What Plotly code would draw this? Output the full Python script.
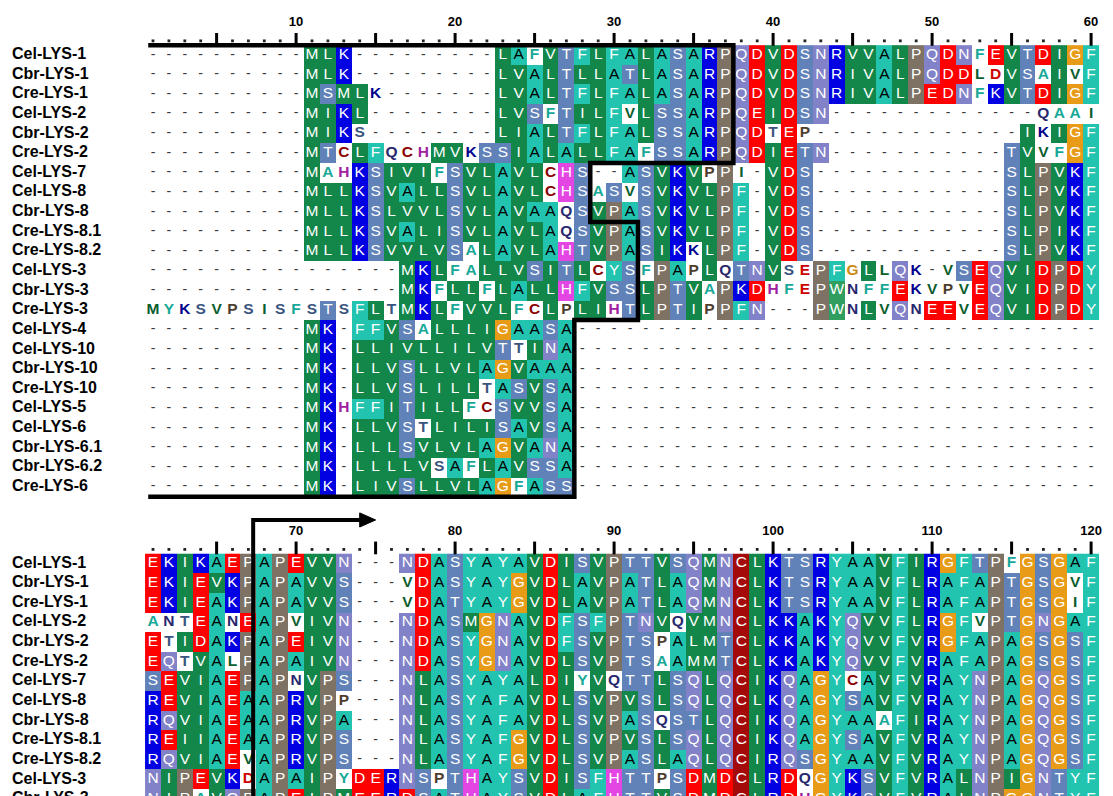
import plotly.graph_objects as go

# ---------------- data ----------------
names = ["Cel-LYS-1", "Cbr-LYS-1", "Cre-LYS-1", "Cel-LYS-2", "Cbr-LYS-2", "Cre-LYS-2",
         "Cel-LYS-7", "Cel-LYS-8", "Cbr-LYS-8", "Cre-LYS-8.1", "Cre-LYS-8.2", "Cel-LYS-3",
         "Cbr-LYS-3", "Cre-LYS-3", "Cel-LYS-4", "Cel-LYS-10", "Cbr-LYS-10", "Cre-LYS-10",
         "Cel-LYS-5", "Cel-LYS-6", "Cbr-LYS-6.1", "Cbr-LYS-6.2", "Cre-LYS-6"]

# positions 1-60 ; uppercase = shaded residue, lowercase = unshaded residue, '-' = gap
seqs_1_60 = [
    "----------MLK---------LAfVTFLFALASARPQDVDSNRVVALPQDNfEVTDIGF",
    "----------MLK---------LVALTLLATLASARPQDVDSNRIVALPQDDldVSaIvF",
    "----------MSMLk-------LVALTFLFALASARPQDVDSNRIVALPEDNfKVTDIGF",
    "----------MIKL--------LVSfTILFvLSSARPQEIDSN-------------qaai",
    "----------MIKs--------LIALTFLFALSSARPQDtEp-------------IkIGF",
    "----------MTcLFqchMVkSSIALALLFAfSSARPQDIETN-----------TVvfGF",
    "----------MahKSIVIfSVLAVLcHS--ASVKVpPi-VDS------------SLPVKF",
    "----------MLLKSVALLSVLAVLcHSaSvSVKVLPF-VDS------------SLPVKF",
    "----------MLLKSLVVLSVLAVAAqSVPASVKVLPF-VDS------------SLPVKF",
    "----------MLLKSVALISVLAVLAqSVPASVKVLPF-VDS------------SLPIKF",
    "----------MLLKSVVLVSaLAVLAHTVPASIKkLPF-VDS------------SLPVKF",
    "----------------MKLfaLLVSITLcYSfPApLqTNVsePFgLlQk-vSEQVIDPDY",
    "----------------MKfLLfLALLHFVSSLPTVaPKDhfePWnffEkvpvEQVIDPDY",
    "myksvpsisfsTsFLtMKLfVVLfcLpLIhTLPTIpPFN---PWnLvQnEEvEQVIDPDY",
    "----------MK-FFVSaLLLIGAASA",
    "----------MK-LLIVLLILVTtINA",
    "----------MK-LLVSLLVLAGVAAA",
    "----------MK-LLVSLILLtASVSA",
    "----------MKhFFITILLfcSVVSA",
    "----------MK-LLVStLILISAVSA",
    "----------MK-LLLSVLVLAGVANA",
    "----------MK-LLLLVsAfLAVSSA",
    "----------MK-LIVSLLVLAGfASS",
]

# positions 61-120 (first 13 sequences; the last one is cut by the page edge)
seqs_61_120 = [
    "EKIKAEPAPEVVN---NDASYAYAVDISVPTTVSQMNCLKTSRYAAVFIRGFTPfGSGAF",
    "EKIEVKPAPAVVS---vDASYAYGVDLAVPATLAQMNCLKTSRYAAVFLRAFAPTGSGvF",
    "EKIEAKPAPAVVS---vDATYAYGVDLAVPATLAQMNCLKTSRYAAVFLRAFAPTGSGiF",
    "antEAnEAPvIVN---NDASMGNAVDFSFPTNVqVMNCLKKAKYQVVFLRGFvPTGNGAF",
    "EtIDAKPAPEIVN---NDASYGNAVDFSVPTSpALMTCLKKAKYQVVFVRGFAPAGSGSF",
    "EQtVAlPAPAIVN---NDASYGNAVDLSVPTSaAMMTCLKKAKYQVVFVRAFAPAGSGSF",
    "SEVIAEPAPnVPS---NLASYAYALDIyVqTTLSQLQCIKQAGYcAVFVRAYNPAGQGSF",
    "REVIAEAAPRVPp---NLASYAFAVDLSVPVSLSQLQCLKQAGYSAVFVRAYNPAGQGSF",
    "RQVIAEAAPRVPA---NLASYAFAVDLSVPASqSTLQCIKQAGYAAaFIRAYNPAGQGSF",
    "REIIAEAAPRVPS---NLASYAFGVDLSVPVSLSQLQCIKQAGYSAVFVRAYNPAGQGSF",
    "RQVIAEvAPRVPS---NLASYAFGVDLSVPASLAQLQCIRQSGYAAVFVRAYNPAGQGSF",
    "NIPEVKdAPAIPyDERNSpTHAYSVDISFHTTpSDMDCLRDqGYKSVFVRALNPIGNTYF",
    "NIPaVQPAPEIPMEERDSATHAYSVDLAFHTTVSDMDCLRDhGYKSVFVRALNPGGNTYF",
]

ticks_1_60 = [10, 20, 30, 40, 50, 60]
ticks_61_120 = [70, 80, 90, 100, 110, 120]

# boxed region: (last row of the step, last column inside the box)
box_steps = [(6, 37), (9, 28), (14, 31), (23, 27)]
# arrow in second block: from residue 67 towards residue 75
arrow_from, arrow_to = 67, 75

# ---------------- styling ----------------
W, H = 1113, 796
COL_PX = 15.9
ROW_PX = 19.635
x0 = 1 - 153 / COL_PX
x_range = [x0, x0 + W / COL_PX]
y_top = -55 / ROW_PX
y_range = [y_top + H / ROW_PX, y_top]

groups = {}
for aa in "LIVM": groups[aa] = 1
for aa in "AFY": groups[aa] = 2
for aa in "ST": groups[aa] = 3
for aa in "NQ": groups[aa] = 4
for aa in "DE": groups[aa] = 5
for aa in "KR": groups[aa] = 6
groups["P"] = 7
groups["G"] = 8
groups["C"] = 9
groups["H"] = 10
groups["W"] = 11

bg_colors = ["#ffffff", "#13864a", "#22c4b0", "#6182b9", "#8282c8", "#ff0000",
             "#0000e2", "#7e7264", "#e89b17", "#a50a0a", "#e346e3", "#2f9e5f"]
fg_plain = {1: "#0b5e2e", 2: "#17a898", 3: "#3a5480", 4: "#28286e", 5: "#cc0000",
            6: "#00008c", 7: "#4d3d2d", 8: "#cc8a10", 9: "#8a0000", 10: "#a020a0",
            11: "#0b5e2e"}

n = len(bg_colors)
cscale = []
for k, c in enumerate(bg_colors):
    cscale.append([k / n, c])
    cscale.append([(k + 1) / n, c])

FONT = "Liberation Sans, Arial, sans-serif"

fig = go.Figure()


def add_block(seqs, row0, start_pos, tick_labels):
    nrow = len(seqs)
    ys = [row0 + i for i in range(nrow)]
    xs = list(range(1, 61))
    z = []
    sx, sy, st, sc = [], [], [], []   # shaded letters
    px, py, pt, pc = [], [], [], []   # unshaded letters
    gx, gy = [], []                   # gaps
    for i, s in enumerate(seqs):
        s = s.ljust(60, "-")
        zr = []
        for j, ch in enumerate(s):
            x = j + 1
            if ch == "-":
                zr.append(0)
                gx.append(x); gy.append(ys[i])
            elif ch.isupper():
                g = groups[ch]
                zr.append(g)
                sx.append(x); sy.append(ys[i]); st.append(ch)
                sc.append("#000000" if ch == "A" else "#ffffff")
            else:
                g = groups[ch.upper()]
                zr.append(0)
                px.append(x); py.append(ys[i]); pt.append(ch.upper())
                pc.append(fg_plain[g])
        z.append(zr)
    fig.add_trace(go.Heatmap(z=z, x=xs, y=ys, colorscale=cscale, zmin=-0.5, zmax=n - 0.5,
                             showscale=False, hoverinfo="skip", xgap=0, ygap=0))
    fig.add_trace(go.Scatter(x=sx, y=sy, text=st, mode="text", hoverinfo="skip",
                             textfont=dict(family=FONT, size=15.5, color=sc)))
    fig.add_trace(go.Scatter(x=px, y=py, text=pt, mode="text", hoverinfo="skip",
                             textfont=dict(family=FONT, size=15.5, color=pc, weight="bold")))
    fig.add_trace(go.Scatter(x=gx, y=gy, text=["-"] * len(gx), mode="text", hoverinfo="skip",
                             textfont=dict(family=FONT, size=14, color="#3a3a3a")))
    # names
    fig.add_trace(go.Scatter(x=[x_range[0] + 12 / COL_PX] * nrow, y=ys, text=names[:nrow],
                             mode="text", textposition="middle right", hoverinfo="skip",
                             textfont=dict(family=FONT, size=16, color="#000000", weight="bold")))
    # ruler
    tx = [t - start_pos + 1 for t in tick_labels]
    fig.add_trace(go.Scatter(x=tx, y=[row0 - 1.62] * len(tx), text=[str(t) for t in tick_labels],
                             mode="text", hoverinfo="skip",
                             textfont=dict(family="Liberation Sans Narrow, Arial, sans-serif",
                                           size=13, color="#000000", weight="bold")))
    bx, by = [], []
    dx, dy = [], []
    for c in xs:
        if c % 5 == 0:
            bx += [c, c, None]
            by += [row0 - 1.12, row0 - 0.47, None]
        else:
            dx.append(c); dy.append(row0 - 0.72)
    fig.add_trace(go.Scatter(x=bx, y=by, mode="lines", hoverinfo="skip",
                             line=dict(color="#000000", width=3)))
    fig.add_trace(go.Scatter(x=dx, y=dy, mode="markers", hoverinfo="skip",
                             marker=dict(color="#222222", size=2.8, symbol="square")))


add_block(seqs_1_60, 0, 1, ticks_1_60)
ROW0_B = 25.9
add_block(seqs_61_120, ROW0_B, 61, ticks_61_120)

# box outline in first block
start_x = 0.7
bxs, bys = [start_x], [-0.5]
ytop = -0.5
for last_row, col in box_steps:
    xb = col + 0.5
    bxs.append(xb); bys.append(ytop)
    ytop = last_row - 0.5
    bxs.append(xb); bys.append(ytop)
bxs.append(start_x); bys.append(ytop)
fig.add_trace(go.Scatter(x=bxs, y=bys, mode="lines", hoverinfo="skip",
                         line=dict(color="#000000", width=4.5)))

# arrow in second block
ax = arrow_from - 60 + 0.3
tip = arrow_to - 60
ay = ROW0_B - 2.22
fig.add_trace(go.Scatter(x=[ax, ax, tip - 1], y=[40, ay, ay], mode="lines", hoverinfo="skip",
                         line=dict(color="#000000", width=4)))
fig.add_trace(go.Scatter(x=[tip - 1, tip, tip - 1, tip - 1], y=[ay - 0.36, ay, ay + 0.36, ay - 0.36],
                         mode="lines", fill="toself", fillcolor="#000000", hoverinfo="skip",
                         line=dict(color="#000000", width=1)))

fig.update_layout(
    width=W, height=H, margin=dict(l=0, r=0, t=0, b=0),
    paper_bgcolor="#ffffff", plot_bgcolor="#ffffff", showlegend=False,
    xaxis=dict(range=x_range, visible=False, fixedrange=True),
    yaxis=dict(range=y_range, visible=False, fixedrange=True),
)

fig.write_html("out.html", config={"displayModeBar": False},
               post_script="document.body.style.margin='0';document.body.style.overflow='hidden';")
